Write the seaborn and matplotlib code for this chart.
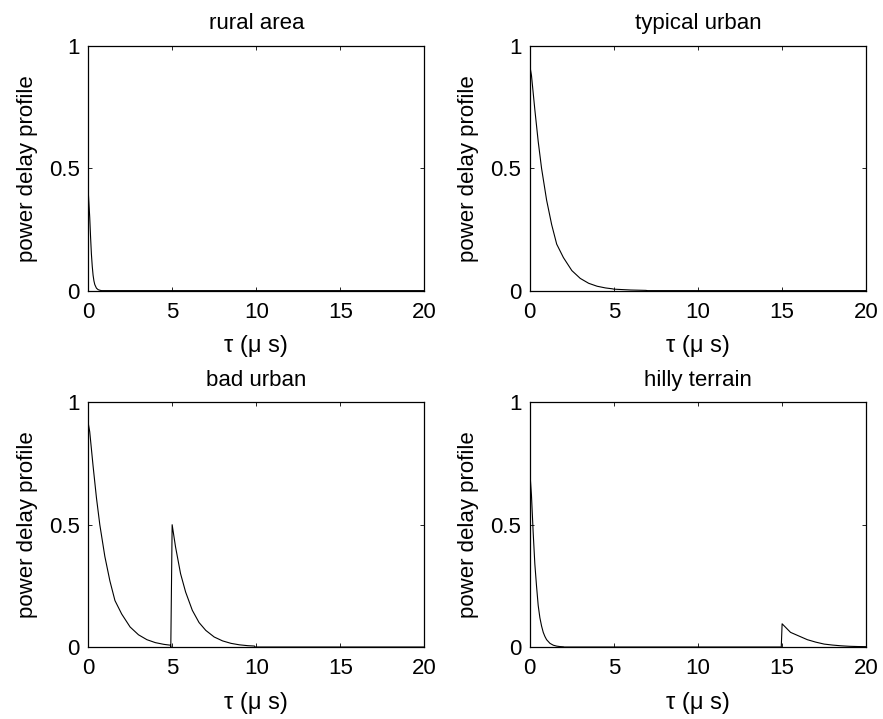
import numpy as np
import pandas as pd
import seaborn as sns
import matplotlib.pyplot as plt

# power delay profiles (tau in microseconds)
rural_tau = [0.0, 0.05, 0.1, 0.15, 0.2, 0.25, 0.3, 0.35, 0.4, 0.5, 0.6, 0.7, 0.8, 20]
rural_pdp = [0.42, 0.36, 0.30, 0.22, 0.15, 0.10, 0.063, 0.04, 0.025, 0.01, 0.004, 0.0016, 0.0, 0.0]

urban_tau = [0.0, 0.1, 0.3, 0.5, 0.7, 1.0, 1.3, 1.6, 2.0, 2.5, 3.0, 3.5, 4.0, 4.5, 4.9,
             5.0, 6.0, 6.9, 7.0, 20]
urban_pdp = [0.92, 0.88, 0.74, 0.61, 0.50, 0.37, 0.27, 0.19, 0.135, 0.082, 0.05, 0.03,
             0.018, 0.011, 0.0075, 0.006, 0.0025, 0.001, 0.0, 0.0]

bad_tau = [0.0, 0.1, 0.3, 0.5, 0.7, 1.0, 1.3, 1.6, 2.0, 2.5, 3.0, 3.5, 4.0, 4.5, 4.9,
           4.92, 5.0, 5.2, 5.5, 5.8, 6.2, 6.6, 7.0, 7.5, 8.0, 8.5, 9.0, 9.5, 9.9, 9.92, 20]
bad_pdp = [0.92, 0.88, 0.74, 0.61, 0.50, 0.37, 0.27, 0.19, 0.135, 0.082, 0.05, 0.03,
           0.018, 0.011, 0.0075, 0.0, 0.50, 0.41, 0.30, 0.225, 0.15, 0.10, 0.068,
           0.041, 0.025, 0.015, 0.009, 0.0055, 0.004, 0.0, 0.0]

hilly_tau = [0.0, 0.1, 0.2, 0.3, 0.4, 0.5, 0.6, 0.7, 0.8, 0.9, 1.0, 1.2, 1.4, 1.6, 1.8, 2.0,
             2.05, 14.95, 15.0, 15.5, 16.0, 16.5, 17.0, 17.5, 18.0, 18.5, 19.0, 19.5, 20.0]
hilly_pdp = [0.72, 0.62, 0.47, 0.34, 0.25, 0.17, 0.12, 0.086, 0.06, 0.043, 0.03, 0.015,
             0.0074, 0.0037, 0.0018, 0.0009, 0.0, 0.0, 0.095, 0.06, 0.045, 0.03,
             0.02, 0.012, 0.008, 0.005, 0.003, 0.002, 0.0015]

titles = ['rural area', 'typical urban', 'bad urban', 'hilly terrain']
x_ticks = [0, 5, 10, 15, 20]
y_ticks = [0, 0.5, 1]

sns.set_style('white')
plt.rcParams['font.family'] = ['Liberation Sans', 'DejaVu Sans']
plt.rcParams['font.size'] = 16
plt.rcParams['text.color'] = 'black'
plt.rcParams['axes.labelcolor'] = 'black'

fig, axes = plt.subplots(2, 2, figsize=(8.83, 7.19), dpi=100)
fig.subplots_adjust(left=0.0997, right=0.981, top=0.936, bottom=0.1001,
                    wspace=0.313, hspace=0.457)

series = [(rural_tau, rural_pdp), (urban_tau, urban_pdp),
          (bad_tau, bad_pdp), (hilly_tau, hilly_pdp)]

for ax, (tau, pdp), title in zip(axes.flat, series, titles):
    df = pd.DataFrame({'tau': tau, 'pdp': pdp})
    sns.lineplot(data=df, x='tau', y='pdp', ax=ax, color='black',
                 linewidth=0.8, sort=False, estimator=None)
    ax.set_xlim(0, 20)
    ax.set_ylim(0, 1)
    ax.set_xticks(x_ticks)
    ax.set_xticklabels([str(t) for t in x_ticks])
    ax.set_yticks(y_ticks)
    ax.set_yticklabels(['0', '0.5', '1'])
    ax.tick_params(axis='both', which='both', direction='in', length=3, width=0.6,
                   top=True, right=True, bottom=True, left=True, labelsize=16,
                   colors='black')
    ax.tick_params(axis='x', pad=8)
    ax.tick_params(axis='y', pad=6)
    for sp in ax.spines.values():
        sp.set_visible(True)
        sp.set_color('black')
        sp.set_linewidth(0.9)
    ax.set_title(title, fontsize=16, pad=12)
    ax.set_xlabel('τ (μ s)', fontsize=17, labelpad=9)
    ax.set_ylabel('power delay profile', fontsize=16, labelpad=8)

fig.savefig('out.png', dpi=100)
